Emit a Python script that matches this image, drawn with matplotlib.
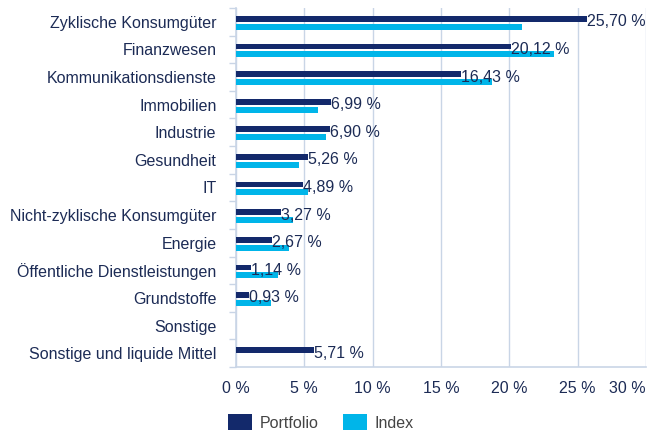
import matplotlib
matplotlib.use("Agg")
import matplotlib.pyplot as plt
import numpy as np

categories = [
    "Zyklische Konsumgüter", "Finanzwesen", "Kommunikationsdienste", "Immobilien",
    "Industrie", "Gesundheit", "IT", "Nicht-zyklische Konsumgüter", "Energie",
    "Öffentliche Dienstleistungen", "Grundstoffe", "Sonstige",
    "Sonstige und liquide Mittel",
]
portfolio = [25.70, 20.12, 16.43, 6.99, 6.90, 5.26, 4.89, 3.27, 2.67, 1.14, 0.93, 0.0, 5.71]
index = [20.9, 23.3, 18.7, 6.0, 6.6, 4.6, 5.3, 4.2, 3.9, 3.05, 2.6, 0.0, 0.0]
xticks = [0, 5, 10, 15, 20, 25, 30]

navy = "#13296b"
cyan = "#00b5e9"
text_col = "#1c2b55"
grid_col = "#c9d5e6"

plt.rcParams["font.family"] = ["Liberation Sans", "DejaVu Sans"]
fs = 11.5

fig = plt.figure(figsize=(6.49, 4.30), dpi=100)
ax = fig.add_axes([0.3635, 0.1465, 0.632, 0.835])

y = np.arange(len(categories))
ax.barh(y - 0.105, portfolio, height=0.21, color=navy, label="Portfolio", zorder=3)
ax.barh(y + 0.18, index, height=0.22, color=cyan, label="Index", zorder=3)

for yi, v in zip(y, portfolio):
    if v > 0:
        ax.text(v, yi, f"{v:.2f} %".replace(".", ","), ha="left", va="center",
                fontsize=fs, color=text_col, zorder=4)

ax.set_xlim(0, 30)
ax.set_ylim(len(categories) - 0.5, -0.5)
ax.set_xticks(xticks)
ax.set_xticklabels([f"{t} %" for t in xticks])
ax.get_xticklabels()[-1].set_horizontalalignment("right")
ax.set_yticks(y)
ax.set_yticklabels(categories)
ax.set_yticks(np.arange(-0.5, len(categories), 1), minor=True)

ax.tick_params(axis="y", which="major", length=0, pad=14, labelsize=fs, labelcolor=text_col)
ax.tick_params(axis="y", which="minor", length=5, color=grid_col, width=1)
ax.tick_params(axis="x", length=0, pad=10, labelsize=fs, labelcolor=text_col)

ax.grid(axis="x", color=grid_col, linewidth=1, zorder=0)
for s in ["top", "right"]:
    ax.spines[s].set_visible(False)
for s in ["left", "bottom"]:
    ax.spines[s].set_color(grid_col)
    ax.spines[s].set_linewidth(1.2)

leg = fig.legend(loc="lower left", bbox_to_anchor=(0.329, -0.035), ncol=2, frameon=False,
                 fontsize=fs, handlelength=1.5, handleheight=1.2, columnspacing=1.5,
                 handletextpad=0.5)
for t in leg.get_texts():
    t.set_color("#444444")

fig.savefig("out.png", dpi=100)
